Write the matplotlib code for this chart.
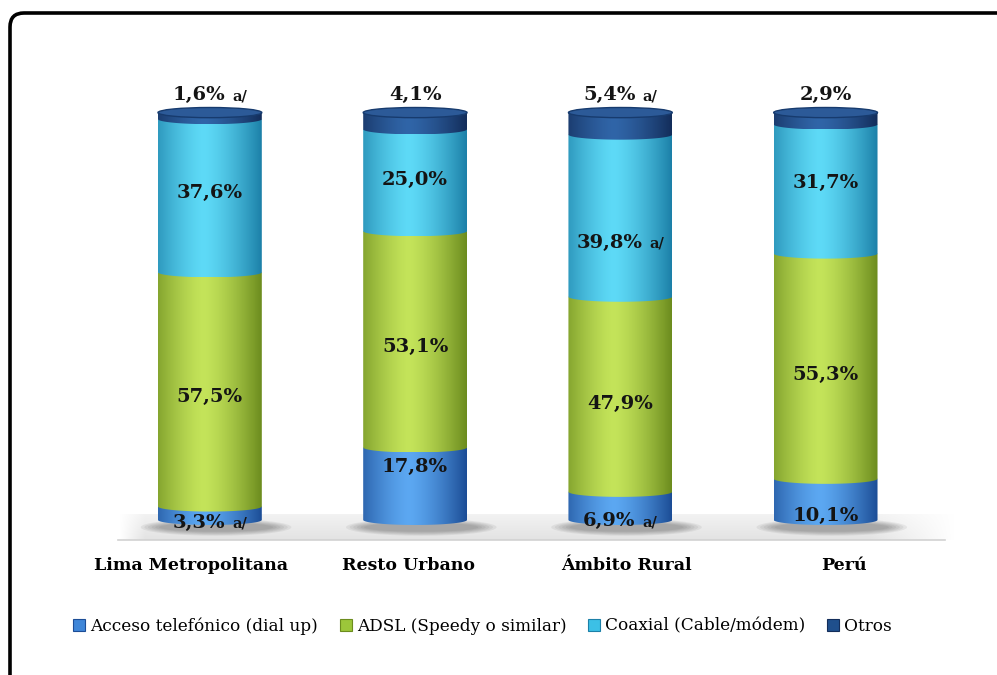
import numpy as np
import matplotlib.pyplot as plt
from matplotlib.patches import Polygon, Ellipse, Patch, FancyBboxPatch
from matplotlib.colors import to_rgb
from matplotlib.offsetbox import TextArea, HPacker, AnnotationBbox

categories = ['Lima Metropolitana', 'Resto Urbano', 'Ámbito Rural', 'Perú']
series = ['Acceso telefónico (dial up)', 'ADSL (Speedy o similar)',
          'Coaxial (Cable/módem)', 'Otros']
dial_up = [3.3, 17.8, 6.9, 10.1]
adsl = [57.5, 53.1, 47.9, 55.3]
coaxial = [37.6, 25.0, 39.8, 31.7]
otros = [1.6, 4.1, 5.4, 2.9]
# 'a/' marks next to some values
note_dial = [True, False, True, False]
note_adsl = [False, False, False, False]
note_coax = [False, False, True, False]
note_otros = [True, False, True, False]

values = [dial_up, adsl, coaxial, otros]
notes = [note_dial, note_adsl, note_coax, note_otros]

# (centre colour, edge colour) for each series
colors = [('#5ca8f2', '#1c4d96'),
          ('#c4e45a', '#6c8c1e'),
          ('#5edaf7', '#1c80a8'),
          ('#3065a8', '#132d5a')]
legend_colors = ['#3f86d8', '#9cc63a', '#3cc0e6', '#1f4f8c']

# label heights (data units), the way the original placed them
label_y = [[-0.7, 13.0, -0.3, 1.0],
           [30.2, 42.5, 28.5, 35.6],
           [80.3, 83.5, 68.1, 82.6],
           [104.2, 104.2, 104.2, 104.2]]

W = 0.253   # half width of a cylinder
EH = 1.25   # half height of the ellipses

fig = plt.figure(figsize=(9.97, 6.75), dpi=100)

# background with the rounded frame
bg = fig.add_axes([0, 0, 1, 1], zorder=-1)
bg.set_xlim(0, 997)
bg.set_ylim(675, 0)
bg.axis('off')
bg.add_patch(FancyBboxPatch((10, 13), 1200, 900,
                            boxstyle='round,pad=0,rounding_size=14',
                            lw=2.6, ec='black', fc='white'))

ax = fig.add_axes([97 / 997, (675 - 581) / 675, 862 / 997, 501 / 675])
ax.set_xlim(-0.55, 3.65)
ax.set_ylim(-15, 108)
ax.axis('off')


def shade(c_center, c_edge, n=200):
    u = np.linspace(-1, 1, n)
    p = np.clip(1 - np.abs((u + 0.12) / 1.12) ** 1.4, 0, 1)
    a = np.array(to_rgb(c_center))
    b = np.array(to_rgb(c_edge))
    row = b[None, :] + (a - b)[None, :] * p[:, None]
    return np.clip(np.stack([row, row]), 0, 1)


# floor
fx0, fx1, fy0, fy1 = -0.45, 3.63, -5.0, 1.3
g = np.linspace(0, 1, 40)[:, None]
h = np.linspace(0, 1, 200)[None, :]
fade = np.clip((1 - h) / 0.1, 0, 1) * np.clip(h / 0.03, 0, 1)
lev = 1 - (0.05 + 0.06 * g) * fade
floor = np.stack([lev, lev, lev], axis=-1)
ax.imshow(floor, extent=[fx0, fx1, fy0, fy1], origin='upper', aspect='auto',
          interpolation='bilinear', zorder=1)
ax.plot([fx0, fx1 - 0.05], [fy0, fy0], color='#d2d2d2', lw=1.2, zorder=1)

for i, cat in enumerate(categories):
    # soft shadow under the cylinder
    for k in range(6):
        ax.add_patch(Ellipse((i + 0.03, -1.8), 2 * W * (1.45 - 0.07 * k),
                             4.2 - 0.4 * k, color='#444444', alpha=0.08,
                             lw=0, zorder=2))
    base = 0
    for s in range(4):
        v = values[s][i]
        y0, y1 = base, base + v
        t = np.linspace(np.pi, 2 * np.pi, 60)
        pts = [(i - W, y1)] + list(zip(i + W * np.cos(t), y0 + EH * np.sin(t))) + [(i + W, y1)]
        poly = Polygon(pts, closed=True, fc='none', ec='none', zorder=3 + s)
        ax.add_patch(poly)
        im = ax.imshow(shade(*colors[s]), extent=[i - W, i + W, y0 - EH, y1],
                       aspect='auto', interpolation='bilinear', zorder=3 + s)
        im.set_clip_path(poly)
        base = y1
    # top cap
    cap = Ellipse((i, base), 2 * W, 2 * EH, fc='#2c5a98', ec='#173b6e',
                  lw=1.0, zorder=8)
    ax.add_patch(cap)

# value labels
big = dict(fontfamily='DejaVu Serif', fontweight='bold', fontsize=14, color='#141414')
small = dict(fontfamily='DejaVu Serif', fontweight='bold', fontsize=10.5, color='#141414')
for s in range(4):
    for i in range(4):
        txt = ('%.1f%%' % values[s][i]).replace('.', ',')
        parts = [TextArea(txt, textprops=big)]
        if notes[s][i]:
            parts.append(TextArea('a/', textprops=small))
        box = HPacker(children=parts, align='baseline', pad=0, sep=5)
        ab = AnnotationBbox(box, (i, label_y[s][i]), frameon=False,
                            box_alignment=(0.5, 0.5), zorder=10)
        ax.add_artist(ab)

# category labels sit on the front edge of the floor, spread a little wider
for i, cat in enumerate(categories):
    ax.text(-0.09 + 1.059 * i, -11.3, cat, ha='center', va='center',
            fontfamily='DejaVu Serif', fontweight='bold', fontsize=12.5,
            color='black')

handles = [Patch(fc=legend_colors[s], ec=colors[s][1], lw=0.8) for s in range(4)]
fig.legend(handles, series, loc='center', bbox_to_anchor=(0.484, 1 - 626 / 675),
           ncol=4, frameon=False, handlelength=0.7, handleheight=0.7,
           handletextpad=0.3, columnspacing=1.3,
           prop=dict(family='DejaVu Serif', size=12.2))

fig.savefig('out.png', dpi=100)
